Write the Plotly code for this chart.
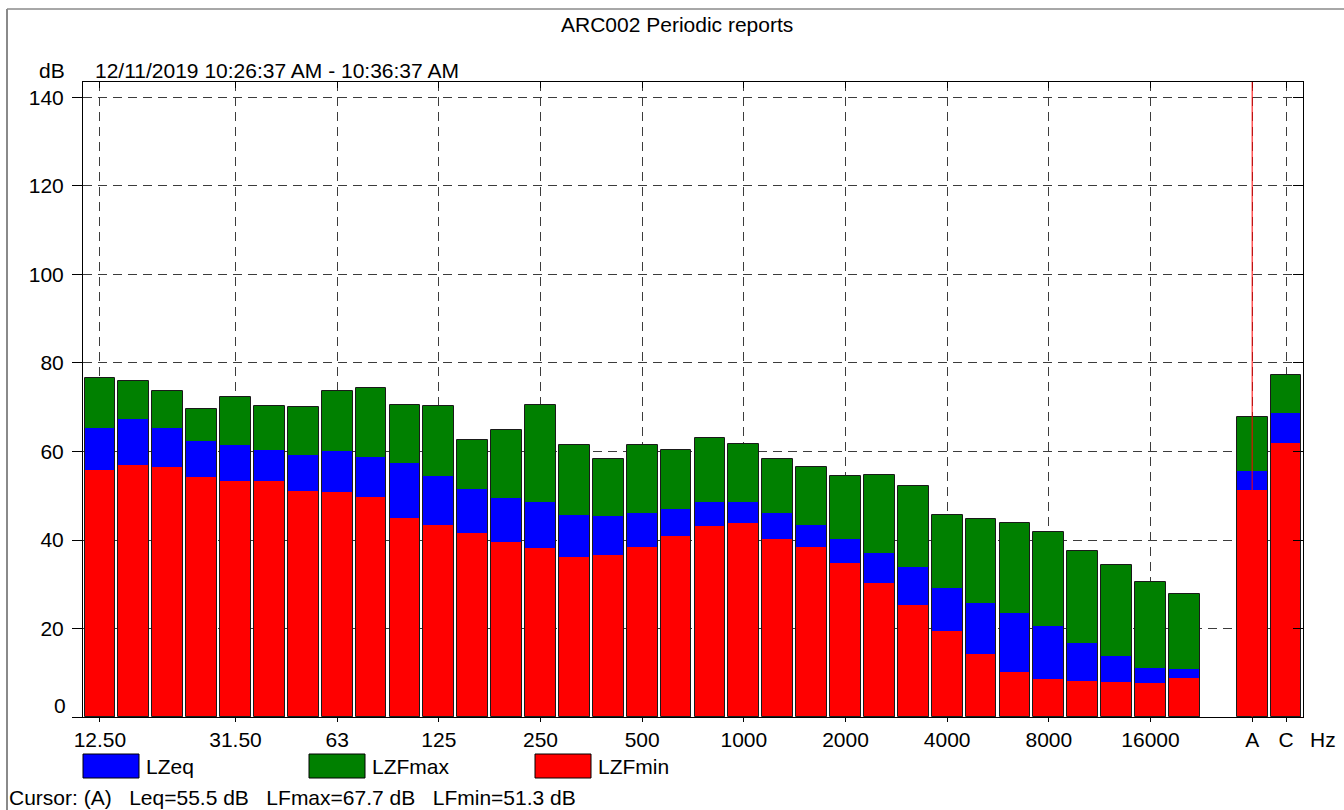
import plotly.graph_objects as go

# ---------------- data ----------------
bands = ["12.5", "16", "20", "25", "31.5", "40", "50", "63", "80", "100",
         "125", "160", "200", "250", "315", "400", "500", "630", "800", "1000",
         "1250", "1600", "2000", "2500", "3150", "4000", "5000", "6300", "8000",
         "10000", "12500", "16000", "20000", "A", "C"]
lzfmax = [76.5, 75.9, 73.7, 69.6, 72.3, 70.2, 70.1, 73.6, 74.4, 70.4,
          70.2, 62.7, 64.9, 70.4, 61.5, 58.2, 61.4, 60.3, 63.1, 61.8,
          58.2, 56.5, 54.5, 54.8, 52.2, 45.6, 44.7, 43.9, 41.9, 37.5,
          34.4, 30.4, 27.9, 67.7, 77.4]
lzeq = [65.3, 67.3, 65.3, 62.4, 61.5, 60.3, 59.2, 60.1, 58.8, 57.4,
        54.5, 51.5, 49.5, 48.6, 45.6, 45.4, 46.1, 46.9, 48.6, 48.6,
        46.0, 43.4, 40.2, 37.1, 33.8, 29.2, 25.8, 23.5, 20.6, 16.7,
        13.8, 11.1, 10.8, 55.5, 68.7]
lzfmin = [55.8, 56.9, 56.5, 54.2, 53.3, 53.3, 51.1, 50.8, 49.7, 45.0,
          43.4, 41.6, 39.6, 38.3, 36.2, 36.6, 38.4, 41.0, 43.2, 43.8,
          40.2, 38.4, 34.8, 30.3, 25.2, 19.4, 14.2, 10.2, 8.6, 8.1,
          7.9, 7.7, 8.8, 51.3, 61.9]
tick_bands = ["12.5", "31.5", "63", "125", "250", "500", "1000", "2000",
              "4000", "8000", "16000", "A", "C"]
tick_text = ["12.50", "31.50", "63", "125", "250", "500", "1000", "2000",
             "4000", "8000", "16000", "A", "C"]
y_ticks = [0, 20, 40, 60, 80, 100, 120, 140]
series_names = ["LZeq", "LZFmax", "LZFmin"]
cursor_band = "A"
title = "ARC002 Periodic reports"
period = "12/11/2019 10:26:37 AM - 10:36:37 AM"
SEP = "\u00a0\u00a0\u00a0"
cursor_text = ("Cursor: (A)" + SEP + "Leq=55.5 dB" + SEP + "LFmax=67.7 dB"
               + SEP + "LFmin=51.3 dB")

# ---------------- layout helpers ----------------
W, H = 1344, 810
L, R, T, B = 83, 1303, 82, 717
PW, PH = R - L, B - T
FONT = "Liberation Sans, Arial, sans-serif"
FS = 21
RED, BLUE, GREEN = "#FF0000", "#0000FF", "#008000"


def px(x):
    return (x - L) / PW


def py(y):
    return (B - y) / PH


# numeric slot for each band: frequency bands, one empty slot, then A and C
n_freq = sum(1 for b in bands if b not in ("A", "C"))
pos = [i if i < n_freq else i + 1 for i in range(len(bands))]
pos_of = dict(zip(bands, pos))
bw = 0.91

fig = go.Figure()
fig.add_trace(go.Bar(x=pos, y=lzfmin, base=[0] * len(pos), width=bw,
                     marker=dict(color=RED, line=dict(width=0)), name="LZFmin"))
fig.add_trace(go.Bar(x=pos, y=[e - m for e, m in zip(lzeq, lzfmin)], base=lzfmin,
                     width=bw, marker=dict(color=BLUE, line=dict(width=0)), name="LZeq"))
fig.add_trace(go.Bar(x=pos, y=[mx - e for mx, e in zip(lzfmax, lzeq)], base=lzeq,
                     width=bw, marker=dict(color=GREEN, line=dict(width=0)), name="LZFmax"))
fig.add_trace(go.Bar(x=pos, y=lzfmax, base=[0] * len(pos), width=bw,
                     marker=dict(color="rgba(0,0,0,0)", line=dict(color="#1a1a1a", width=1)),
                     name="outline"))
# invisible trace for mirrored tick axes
fig.add_trace(go.Scatter(x=[pos[0]], y=[0], xaxis="x2", yaxis="y2", mode="markers",
                         marker=dict(opacity=0), hoverinfo="skip"))

xr = [-0.5, pos[-1] + 0.5]
yr = [0, 143.5]
tickvals = [pos_of[b] for b in tick_bands]

fig.update_layout(
    width=W, height=H, autosize=False,
    margin=dict(l=L, r=W - R, t=T, b=H - B, pad=0),
    paper_bgcolor="white", plot_bgcolor="white",
    barmode="overlay", bargap=0, showlegend=False,
    font=dict(family=FONT, size=FS, color="black"),
    xaxis=dict(range=xr, tickmode="array", tickvals=tickvals, ticktext=tick_text,
               showgrid=True, gridcolor="#3c3c3c", gridwidth=1, griddash="9px,6px",
               showline=True, linecolor="black", linewidth=1, mirror=True,
               ticks="outside", ticklen=4, tickcolor="black",
               ticklabelstandoff=0, zeroline=False,
               tickfont=dict(family=FONT, size=FS, color="black")),
    yaxis=dict(range=yr, tickmode="array", tickvals=y_ticks,
               ticktext=[("" if v == 0 else str(v)) for v in y_ticks],
               showgrid=True, gridcolor="#3c3c3c", gridwidth=1, griddash="9px,6px",
               showline=True, linecolor="black", linewidth=1, mirror=True,
               ticks="outside", ticklen=10, tickcolor="black", zeroline=False,
               ticklabelstandoff=4,
               tickfont=dict(family=FONT, size=FS, color="black")),
    xaxis2=dict(range=xr, overlaying="x", side="top", tickmode="array",
                tickvals=tickvals, showticklabels=False, ticks="inside", ticklen=6,
                tickcolor="black", showgrid=False, showline=False, zeroline=False),
    yaxis2=dict(range=yr, overlaying="y", side="right", tickmode="array",
                tickvals=y_ticks, showticklabels=False, ticks="inside", ticklen=10,
                tickcolor="black", showgrid=False, showline=False, zeroline=False),
)

shapes = []
# cursor line at A
shapes.append(dict(type="line", xref="x", yref="paper", x0=pos_of[cursor_band],
                   x1=pos_of[cursor_band], y0=0, y1=1, layer="above",
                   line=dict(color=RED, width=1)))
# outer frame
shapes.append(dict(type="line", xref="paper", yref="paper", x0=px(7), x1=px(W + 5),
                   y0=py(9), y1=py(9), line=dict(color="#505050", width=1)))
shapes.append(dict(type="line", xref="paper", yref="paper", x0=px(7), x1=px(7),
                   y0=py(9), y1=py(H + 5), line=dict(color="#8a8a8a", width=2)))

annotations = []
# legend
legend_colors = {"LZeq": BLUE, "LZFmax": GREEN, "LZFmin": RED}
legend_x = [83, 309, 535]
for name, lx in zip(series_names, legend_x):
    shapes.append(dict(type="rect", xref="paper", yref="paper",
                       x0=px(lx), x1=px(lx + 56), y0=py(778), y1=py(754),
                       fillcolor=legend_colors[name], line=dict(color="black", width=1)))
    annotations.append(dict(xref="paper", yref="paper", x=px(lx + 61), y=py(766),
                            text=name, showarrow=False, xanchor="left", yanchor="middle",
                            font=dict(size=FS)))

annotations += [
    dict(xref="paper", yref="paper", x=px(677), y=py(24), text=title, showarrow=False,
         xanchor="center", yanchor="middle", font=dict(size=FS)),
    dict(xref="paper", yref="paper", x=px(93), y=py(71), text=period, showarrow=False,
         xanchor="left", yanchor="middle", font=dict(size=FS)),
    dict(xref="paper", yref="paper", x=px(67), y=py(71), text="dB", showarrow=False,
         xanchor="right", yanchor="middle", font=dict(size=FS)),
    dict(xref="paper", yref="paper", x=px(68), y=py(705), text="0", showarrow=False,
         xanchor="right", yanchor="middle", font=dict(size=FS)),
    dict(xref="paper", yref="paper", x=px(1323), y=py(739), text="Hz", showarrow=False,
         xanchor="center", yanchor="middle", font=dict(size=FS)),
    dict(xref="paper", yref="paper", x=px(7), y=py(797), text=cursor_text, showarrow=False,
         xanchor="left", yanchor="middle", font=dict(size=FS)),
]

fig.update_layout(shapes=shapes, annotations=annotations)
fig.write_html("out.html", config={"displayModeBar": False},
               post_script="document.body.style.margin='0';document.body.style.padding='0';")
